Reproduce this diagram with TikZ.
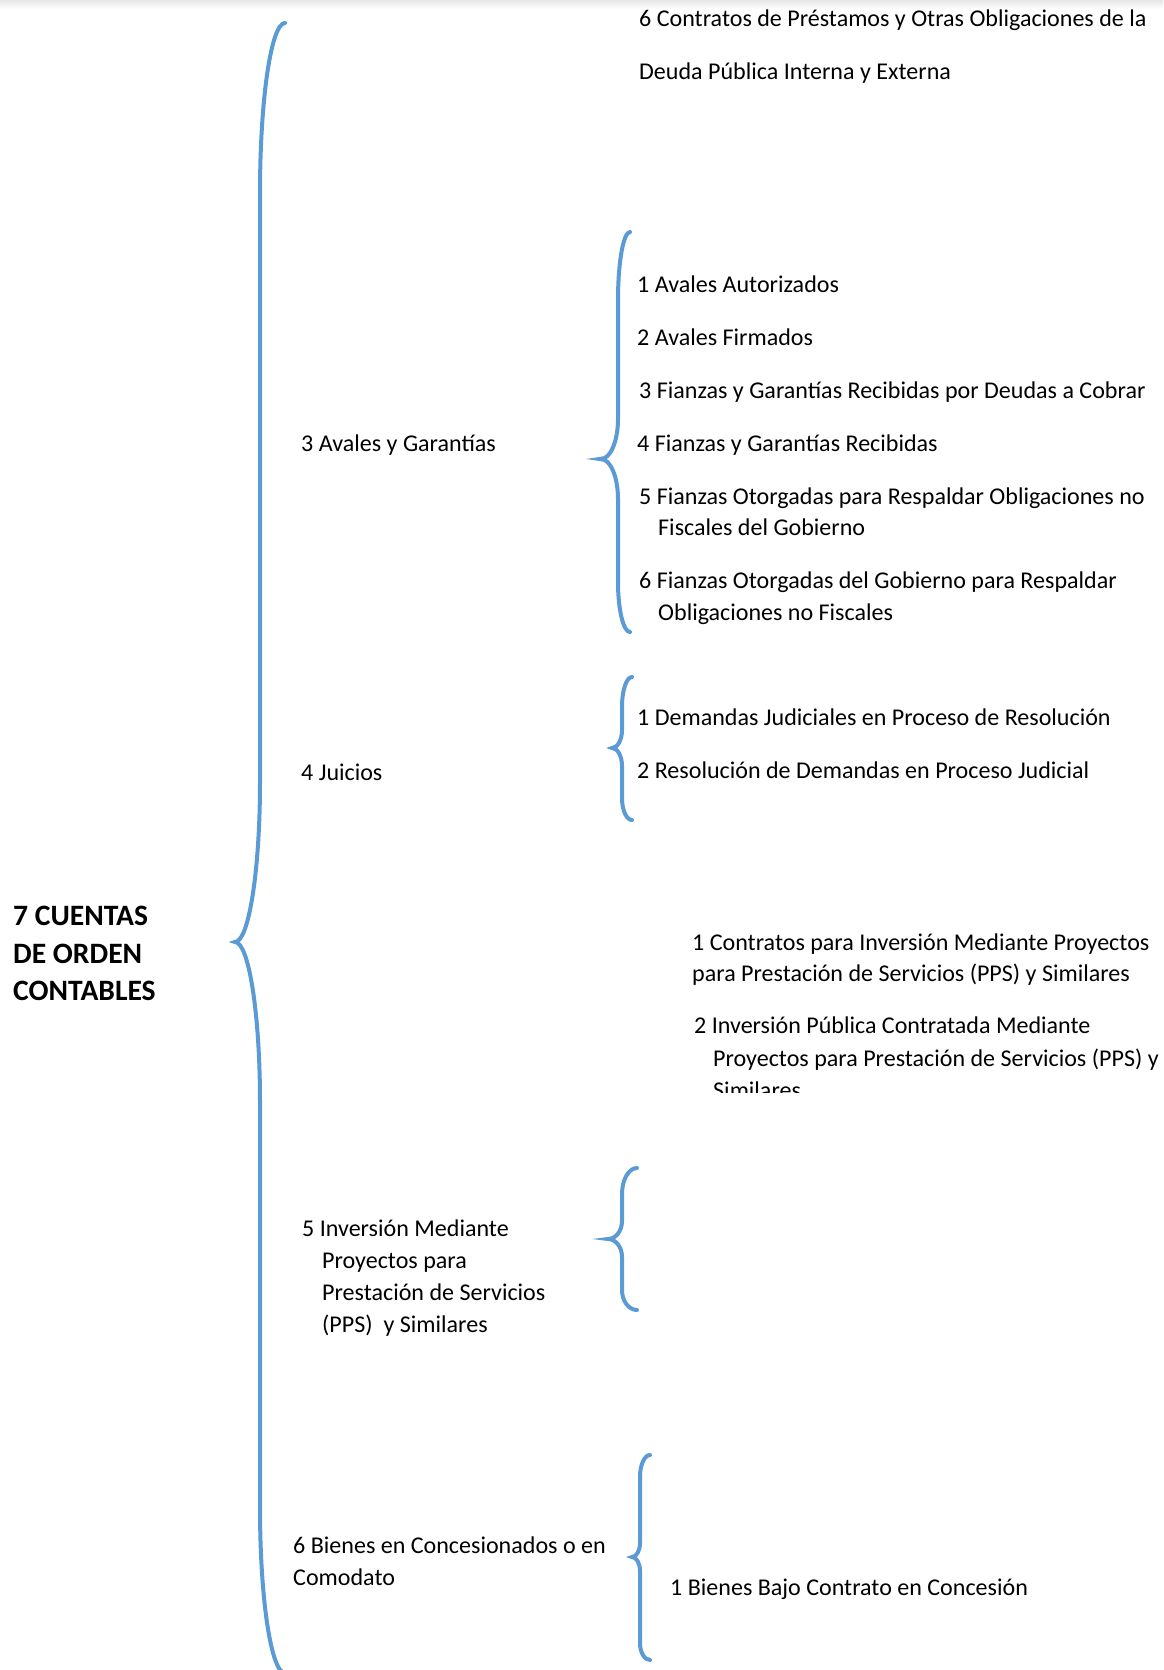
\documentclass[tikz,border=0pt]{standalone}
\usepackage{fontspec}
\setmainfont{Carlito}
\definecolor{braceblue}{HTML}{5B9BD5}
% Curly brace opening to the right:
% #1 x of the two ends, #2 y of top end, #3 x of the straight parts,
% #4 x of the tip, #5 y of the tip, #6 y of bottom end,
% #7 radius of top bend, #8 radius of the bends at the tip, #9 radius of bottom bend
\newcommand{\curlyb}[9]{%
  \draw[brace] (#1,#2)
    .. controls ({#1-0.5523*(#1-#3)},#2) and (#3,{#2+#7-0.5523*#7}) .. (#3,{#2+#7})
    -- (#3,{#5-#8})
    .. controls (#3,{#5-#8+0.5523*#8}) and ({#4+0.5523*(#3-#4)},#5) .. (#4,#5)
    .. controls ({#4+0.5523*(#3-#4)},#5) and (#3,{#5+#8-0.5523*#8}) .. (#3,{#5+#8})
    -- (#3,{#6-#9})
    .. controls (#3,{#6-#9+0.5523*#9}) and ({#1-0.5523*(#1-#3)},#6) .. (#1,#6);}
\begin{document}
\begin{tikzpicture}[x=1pt,y=-1pt,
  brace/.style={draw=braceblue,line width=4pt,line cap=round},
  item/.style={anchor=base west,inner sep=0pt,font=\fontsize{24.05}{28}\selectfont},
  head/.style={anchor=base west,inner sep=0pt,font=\fontsize{29.6}{34}\selectfont\bfseries}]
\useasboundingbox (0,0) rectangle (1163,1670);
\fill[white] (0,0) rectangle (1163,1670);
% faint shadow along the top edge
\shade[top color=black!10,bottom color=white] (0,0) rectangle (1163,9);

% main brace
\curlyb{285}{23}{260}{235}{942}{1673}{170}{160}{165}
% brace of "3 Avales y Garantias", with its pointed tip
\curlyb{630}{232}{618}{601}{459}{632}{68}{40}{50}
\fill[braceblue] (603,456.5) -- (586,459) -- (603,461.5) -- cycle;
% brace of "4 Juicios"
\curlyb{632}{677}{622}{612}{748}{820}{30}{18}{22}
% brace of "5 Inversion Mediante ..."
\curlyb{637}{1168}{622}{608}{1239}{1310}{26}{18}{20}
% brace of "6 Bienes ..."
\curlyb{650}{1455}{640}{632}{1557}{1660}{22}{14}{17}

% root
\node[head] (r1) at (13,925) {7 CUENTAS};
\node[head] (r2) at (13,963) {DE ORDEN};
\node[head] (r3) at (13,1000) {CONTABLES};

% 6 Contratos de Prestamos ...
\node[item] (c6a) at (639,27) {6 Contratos de Préstamos y Otras Obligaciones de la};
\node[item] (c6b) at (639,79) {Deuda Pública Interna y Externa};

% 3 Avales y Garantias
\node[item] (av) at (301,451) {3 Avales y Garantías};
\node[item] (av1) at (637,292) {1 Avales Autorizados};
\node[item] (av2) at (637,345) {2 Avales Firmados};
\node[item] (av3) at (639,398) {3 Fianzas y Garantías Recibidas por Deudas a Cobrar};
\node[item] (av4) at (637,451) {4 Fianzas y Garantías Recibidas};
\node[item] (av5a) at (639,504) {5 Fianzas Otorgadas para Respaldar Obligaciones no};
\node[item] (av5b) at (658,535) {Fiscales del Gobierno};
\node[item] (av6a) at (639,588) {6 Fianzas Otorgadas del Gobierno para Respaldar};
\node[item] (av6b) at (658,620) {Obligaciones no Fiscales};

% 4 Juicios
\node[item] (ju) at (301,780) {4 Juicios};
\node[item] (ju1) at (637,725) {1 Demandas Judiciales en Proceso de Resolución};
\node[item] (ju2) at (637,778) {2 Resolución de Demandas en Proceso Judicial};

% items of the PPS account
\node[item] (pp1a) at (692,950) {1 Contratos para Inversión Mediante Proyectos};
\node[item] (pp1b) at (692,981) {para Prestación de Servicios (PPS) y Similares};
\node[item] (pp2a) at (694,1033) {2 Inversión Pública Contratada Mediante};
\node[item] (pp2b) at (713,1066) {Proyectos para Prestación de Servicios (PPS) y};
\begin{scope}
\clip (600,1000) rectangle (1163,1092);
\node[item] (pp2c) at (713,1098) {Similares};
\end{scope}

% 5 Inversion Mediante ...
\node[item] (in1) at (302,1236) {5 Inversión Mediante};
\node[item] (in2) at (322,1268) {Proyectos para};
\node[item] (in3) at (322,1300) {Prestación de Servicios};
\node[item] (in4) at (322,1332) {(PPS)\ \ y Similares};

% 6 Bienes ...
\node[item] (bi1) at (293,1553) {6 Bienes en Concesionados o en};
\node[item] (bi2) at (293,1585) {Comodato};
\node[item] (bi3) at (670,1595) {1 Bienes Bajo Contrato en Concesión};
\end{tikzpicture}
\end{document}
